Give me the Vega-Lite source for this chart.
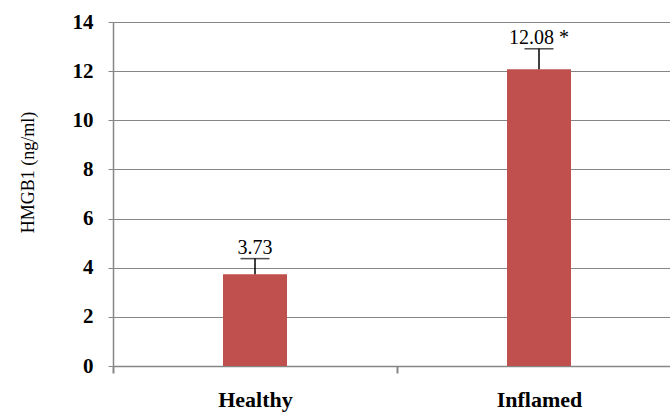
{
  "$schema": "https://vega.github.io/schema/vega-lite/v6.json",
  "autosize": "none",
  "width": 557,
  "height": 344,
  "padding": {"left": 113, "top": 22, "right": 0, "bottom": 50},
  "background": "white",
  "config": {"view": {"stroke": null}},
  "data": {
    "values": [
      {"group": "Healthy", "value": 3.73, "upper": 4.37, "label": "3.73"},
      {"group": "Inflamed", "value": 12.08, "upper": 12.91, "label": "12.08 *"}
    ]
  },
  "encoding": {
    "x": {
      "field": "group",
      "type": "nominal",
      "sort": null,
      "scale": {"type": "band", "range": [0, 568], "paddingInner": 0, "paddingOuter": 0},
      "axis": {
        "title": null,
        "tickBand": "extent",
        "labelAngle": 0,
        "labelFont": "Liberation Serif",
        "labelFontWeight": "bold",
        "labelFontSize": 22,
        "labelColor": "black",
        "labelBaseline": "alphabetic",
        "labelPadding": 33,
        "tickSize": 7,
        "tickWidth": 2,
        "tickColor": "#868686",
        "domainColor": "#868686",
        "domainWidth": 1.5,
        "grid": false
      }
    }
  },
  "layer": [
    {
      "mark": {"type": "bar", "color": "#C0504D", "width": 64},
      "encoding": {
        "y": {
          "field": "value",
          "type": "quantitative",
          "scale": {"domain": [0, 14], "nice": false},
          "axis": {
            "values": [0, 2, 4, 6, 8, 10, 12, 14],
            "title": "HMGB1 (ng/ml)",
            "titleFont": "Liberation Serif",
            "titleFontWeight": "normal",
            "titleFontSize": 18,
            "titleColor": "black",
            "titleAngle": -90,
            "titleAlign": "center",
            "titleBaseline": "alphabetic",
            "titleX": -80,
            "titleY": 150,
            "labelFont": "Liberation Serif",
            "labelFontWeight": "bold",
            "labelFontSize": 21,
            "labelColor": "black",
            "labelPadding": 15,
            "tickSize": 5,
            "tickColor": "#868686",
            "domainColor": "#868686",
            "domainWidth": 1.5,
            "grid": true,
            "gridColor": "#868686",
            "gridWidth": 1.2
          }
        }
      }
    },
    {
      "mark": {"type": "rule", "color": "black", "strokeWidth": 1.5},
      "encoding": {
        "y": {"field": "value", "type": "quantitative"},
        "y2": {"field": "upper"}
      }
    },
    {
      "mark": {"type": "tick", "color": "black", "thickness": 1.5, "size": 29},
      "encoding": {
        "y": {"field": "upper", "type": "quantitative"}
      }
    },
    {
      "mark": {"type": "text", "font": "Liberation Serif", "fontSize": 20, "color": "black", "baseline": "alphabetic", "dy": -5},
      "encoding": {
        "y": {"field": "upper", "type": "quantitative"},
        "text": {"field": "label"}
      }
    }
  ]
}
